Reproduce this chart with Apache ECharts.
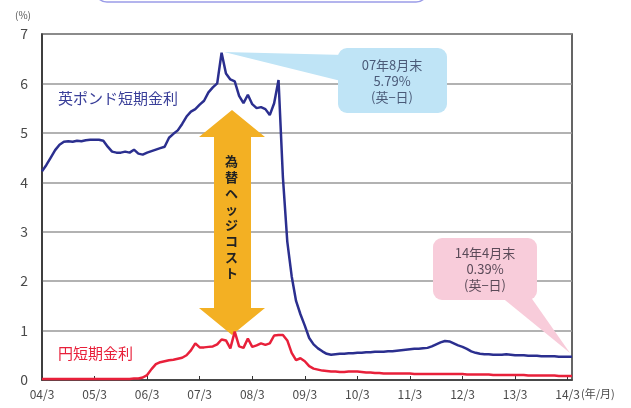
<!DOCTYPE html>
<html>
<head>
<meta charset="utf-8">
<script src="https://cdn.jsdelivr.net/npm/echarts@6/dist/echarts.min.js"></script>
<style>
html, body { margin: 0; padding: 0; background: #fff; }
#chart { width: 631px; height: 408px; }
</style>
</head>
<body>
<div id="chart"></div>
<script>
// year ticks (every 12 months from 2004/3)
var tickLabels = ['04/3', '05/3', '06/3', '07/3', '08/3', '09/3', '10/3', '11/3', '12/3', '13/3', '14/3'];

// month-end values, 2004/3 .. 2014/4
var ukRate = [
    4.22, 4.35, 4.5, 4.65, 4.76, 4.82, 4.83, 4.82, 4.84, 4.83,
    4.85, 4.86, 4.86, 4.86, 4.84, 4.72, 4.62, 4.6, 4.6, 4.62,
    4.6, 4.66, 4.58, 4.56, 4.6, 4.63, 4.66, 4.69, 4.72, 4.9,
    4.98, 5.05, 5.18, 5.33, 5.43, 5.48, 5.57, 5.65, 5.82, 5.92,
    6.0, 6.62, 6.2, 6.08, 6.04, 5.75, 5.6, 5.77, 5.58, 5.5,
    5.52, 5.48, 5.36, 5.6, 6.07, 4.1, 2.8, 2.1, 1.6, 1.33,
    1.1, 0.85, 0.72, 0.64, 0.58, 0.53, 0.51, 0.52, 0.53, 0.53,
    0.54, 0.54, 0.55, 0.55, 0.56, 0.56, 0.57, 0.57, 0.57, 0.58,
    0.58, 0.59, 0.6, 0.61, 0.62, 0.63, 0.63, 0.64, 0.65, 0.68,
    0.72, 0.76, 0.79, 0.78, 0.74, 0.7, 0.67, 0.63, 0.58, 0.55,
    0.53, 0.52, 0.52, 0.51, 0.51, 0.51, 0.52, 0.51, 0.5, 0.5,
    0.5, 0.49, 0.49, 0.49, 0.48, 0.48, 0.48, 0.48, 0.47, 0.47,
    0.47, 0.47
];
var jpRate = [
    0.02, 0.02, 0.02, 0.02, 0.02, 0.02, 0.02, 0.02, 0.02, 0.02,
    0.02, 0.02, 0.02, 0.02, 0.02, 0.02, 0.02, 0.02, 0.02, 0.02,
    0.02, 0.03, 0.03, 0.05, 0.1, 0.22, 0.32, 0.36, 0.38, 0.4,
    0.41, 0.43, 0.45, 0.5, 0.6, 0.74, 0.66, 0.66, 0.67, 0.68,
    0.72, 0.82, 0.8, 0.64, 0.98, 0.68, 0.65, 0.84, 0.67, 0.7,
    0.74, 0.71, 0.74, 0.9, 0.91, 0.91, 0.8, 0.55, 0.4, 0.44,
    0.38, 0.28, 0.23, 0.21, 0.19, 0.18, 0.17, 0.17, 0.16, 0.16,
    0.17, 0.17, 0.17, 0.16, 0.15, 0.15, 0.14, 0.14, 0.13, 0.13,
    0.13, 0.13, 0.13, 0.13, 0.13, 0.12, 0.12, 0.12, 0.12, 0.12,
    0.12, 0.12, 0.12, 0.12, 0.12, 0.12, 0.12, 0.11, 0.11, 0.11,
    0.11, 0.11, 0.11, 0.1, 0.1, 0.1, 0.1, 0.1, 0.1, 0.1,
    0.1, 0.09, 0.09, 0.09, 0.09, 0.09, 0.09, 0.09, 0.08, 0.08,
    0.08, 0.08
];

var months = [];
for (var i = 0; i < ukRate.length; i++) {
    if (i % 12 == 0) {
        months.push(tickLabels[i / 12]);
    } else {
        var y = 4 + Math.floor((i + 2) / 12);
        var m = (i + 2) % 12 + 1;
        months.push((y < 10 ? '0' : '') + y + '/' + m);
    }
}

var font = '"Noto Sans CJK JP", "Noto Sans", sans-serif';
var everyYear = function (index) { return index % 12 == 0; };

var myChart = echarts.init(document.getElementById('chart'));
var option = {
    animation: false,
    grid: {
        left: 42, right: 59, top: 34, bottom: 28,
        show: true, borderColor: '#333', borderWidth: 1.5
    },
    xAxis: {
        type: 'category',
        data: months,
        boundaryGap: false,
        axisLine: { lineStyle: { color: '#333', width: 1.5 } },
        axisTick: { interval: everyYear, inside: true, length: 4, lineStyle: { color: '#333' } },
        axisLabel: { interval: everyYear, color: '#4a4a4a', fontSize: 12, fontFamily: font, margin: 8 },
        splitLine: { show: false }
    },
    yAxis: {
        type: 'value',
        min: 0, max: 7, interval: 1,
        axisLine: { show: true, lineStyle: { color: '#333', width: 1.5 } },
        axisTick: { show: false },
        axisLabel: { color: '#4a4a4a', fontSize: 14, fontFamily: font, margin: 14 },
        splitLine: { lineStyle: { color: '#999', width: 1.5 } }
    },
    series: [
        {
            name: '英ポンド短期金利',
            type: 'line',
            data: ukRate,
            showSymbol: false,
            lineStyle: { color: '#2B2F8F', width: 2.5 },
            z: 3
        },
        {
            name: '円短期金利',
            type: 'line',
            data: jpRate,
            showSymbol: false,
            lineStyle: { color: '#E8203A', width: 2.5 },
            z: 3
        }
    ],
    graphic: [
        // title banner edge
        { type: 'rect', shape: { x: 95, y: -30, width: 333, height: 32, r: 12 },
          style: { fill: '#fff', stroke: '#9A9CE8', lineWidth: 1.5 } },
        { type: 'text', left: 15, top: 10,
          style: { text: '(%)', fill: '#555', font: '10px ' + font } },
        { type: 'text', left: 581, top: 388,
          style: { text: '(年/月)', fill: '#4a4a4a', font: '11px ' + font } },
        // series names
        { type: 'text', left: 58, top: 91,
          style: { text: '英ポンド短期金利', fill: '#3A3F99', font: '15px ' + font } },
        { type: 'text', left: 58, top: 346,
          style: { text: '円短期金利', fill: '#E8203A', font: '15px ' + font } },
        // hedge cost arrow
        { type: 'polygon', z: 1,
          shape: { points: [[232, 110], [265, 137], [251, 137], [251, 308], [265, 308], [232, 335],
                            [199, 308], [214, 308], [214, 137], [199, 137]] },
          style: { fill: '#F3B023' } },
        { type: 'text', left: 225, top: 153, z: 2,
          style: { text: '為\n替\nヘ\nッ\nジ\nコ\nス\nト', fill: '#222', font: 'bold 13px ' + font, lineHeight: 16, align: 'center' } },
        // callout UK-JP at peak
        { type: 'polygon', z: 1,
          shape: { points: [[224, 52], [345, 55], [345, 82]] },
          style: { fill: '#BFE4F6' } },
        { type: 'rect', z: 1, shape: { x: 338, y: 48, width: 109, height: 65, r: 9 },
          style: { fill: '#BFE4F6' } },
        { type: 'text', z: 2, x: 392, y: 57,
          style: { text: '07年8月末\n5.79%\n(英−日)', fill: '#4A5A78', font: '13px ' + font, lineHeight: 16, align: 'center' } },
        // callout UK-JP at end
        { type: 'polygon', z: 1,
          shape: { points: [[500, 296], [530, 296], [570, 353]] },
          style: { fill: '#F8CCDA' } },
        { type: 'rect', z: 1, shape: { x: 433, y: 238, width: 104, height: 62, r: 9 },
          style: { fill: '#F8CCDA' } },
        { type: 'text', z: 2, x: 485, y: 245,
          style: { text: '14年4月末\n0.39%\n(英−日)', fill: '#5A4A58', font: '13px ' + font, lineHeight: 16, align: 'center' } }
    ]
};
myChart.setOption(option);
</script>
</body>
</html>
